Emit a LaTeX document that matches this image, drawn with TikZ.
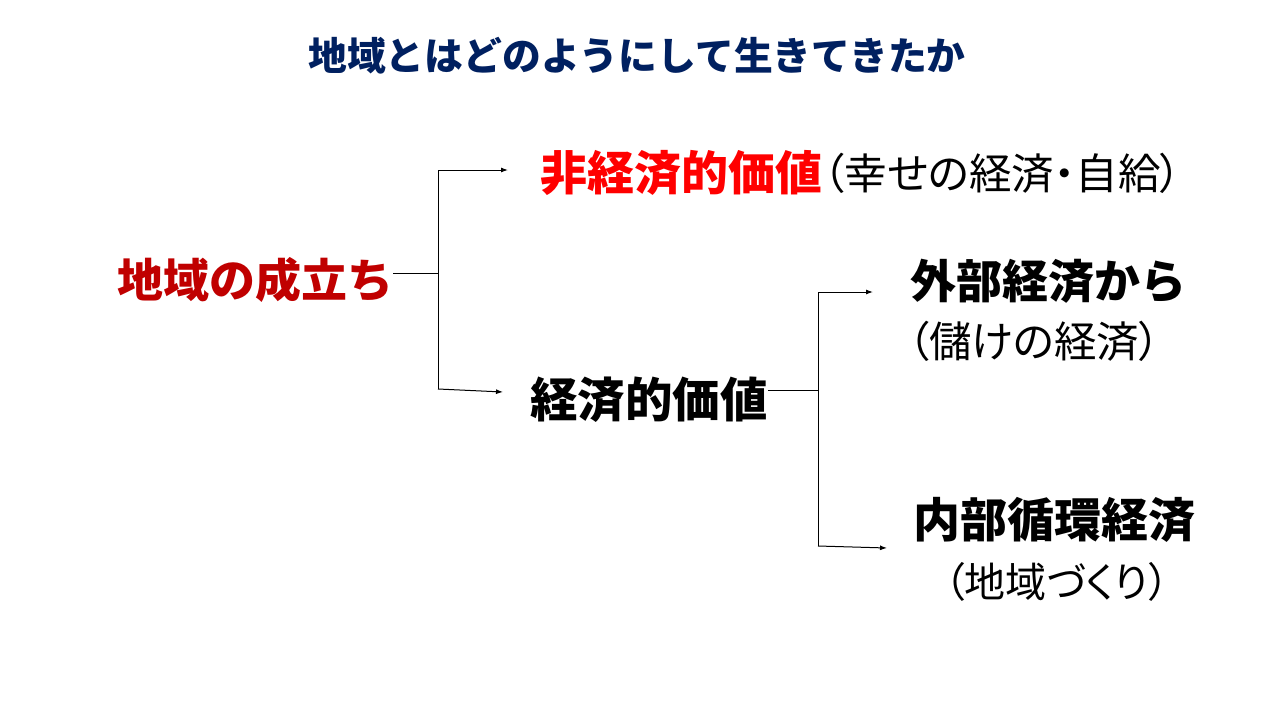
\documentclass[tikz,border=0pt]{standalone}
\usepackage{fontspec}
\setmainfont{Noto Sans CJK JP}
\usetikzlibrary{arrows.meta}
\definecolor{titleblue}{HTML}{002060}
\definecolor{darkred}{HTML}{C00000}
\definecolor{brightred}{HTML}{FF0000}
\tikzset{
  lbl/.style={inner sep=0pt, anchor=west},
  note/.style={lbl, font=\fontsize{42.5}{46}\selectfont\addfontfeatures{RawFeature=+palt}},
  conn/.style={line width=1pt, draw=black},
  arr/.style={conn, -{Latex[length=7pt,width=5pt]}},
}
\begin{document}
\begin{tikzpicture}[x=1pt,y=-1pt]
\useasboundingbox[fill=white] (0,0) rectangle (1280,720);
\node[inner sep=0pt, text=titleblue, font=\fontsize{38.8}{42}\selectfont\bfseries] (title) at (637,56) {地域とはどのようにして生きてきたか};
\node[lbl, text=darkred, font=\fontsize{46}{50}\selectfont\bfseries] (root) at (117,280) {地域の成立ち};
\node[lbl, text=brightred, font=\fontsize{47}{50}\selectfont\bfseries] (nonecon) at (540,173) {非経済的価値};
\node[note] (nonecond) at ([xshift=1pt]nonecon.east) {（幸せの経済・自給）};
\node[lbl, font=\fontsize{47.5}{50}\selectfont\bfseries] (econ) at (530,400) {経済的価値};
\node[lbl, font=\fontsize{46}{50}\selectfont\bfseries] (ext) at (910,281) {外部経済から};
\node[note] (extd) at (908,341) {（儲けの経済）};
\node[note, font=\fontsize{41}{44}\selectfont\addfontfeatures{RawFeature=+palt}] (intd) at (944,582) {（地域づくり）};
\node[lbl, font=\fontsize{47}{50}\selectfont\bfseries] (int) at (913,520) {内部循環経済};
\coordinate (j1) at (438,273);
\coordinate (j1t) at (438,170);
\coordinate (j1b) at (438,389);
\coordinate (a1) at (508,170);
\coordinate (a2) at (503,392);
\coordinate (j2) at (818,390);
\coordinate (j2t) at (818,292);
\coordinate (j2b) at (818,546);
\coordinate (a3) at (873,292);
\coordinate (a4) at (887,548);
\draw[conn] (root.east |- j1) -- (j1);
\draw[conn] (j1t) -- (j1b);
\draw[arr] (j1t) -- (a1);
\draw[arr] (j1b) -- (a2);
\draw[conn] (econ.east |- j2) -- (j2);
\draw[conn] (j2t) -- (j2b);
\draw[arr] (j2t) -- (a3);
\draw[arr] (j2b) -- (a4);
\end{tikzpicture}
\end{document}
